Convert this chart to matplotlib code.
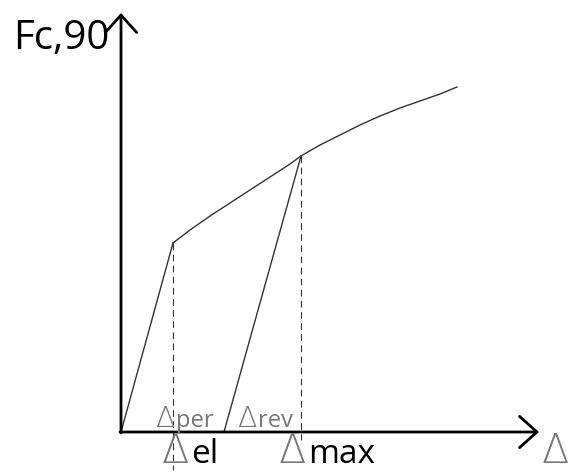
import matplotlib.pyplot as plt

plt.rcParams['font.family'] = ['Open Sans', 'DejaVu Sans']

# load-displacement path (displacement, force)
elastic_x = [0, 52]
elastic_y = [0, 189]
plastic_x = [52, 69, 89, 109, 129, 149, 169, 180, 199, 219, 239, 259, 279, 299, 319, 336]
plastic_y = [189, 202, 216, 229, 242, 255, 268, 276, 287, 297, 307, 316, 324, 331, 338, 345]
unload_x = [180, 103]
unload_y = [276, 0]

d_el = 52
d_max = 180

fig = plt.figure(figsize=(5.71, 4.72), dpi=100)
ax = fig.add_axes([0, 0, 1, 1])
ax.set_xlim(-121, 450)
ax.set_ylim(-40, 432)
ax.axis('off')

line_kw = dict(color='#333333', lw=1.0)
ax.plot(elastic_x, elastic_y, **line_kw)
ax.plot(plastic_x, plastic_y, **line_kw)
ax.plot(unload_x, unload_y, **line_kw)

# dashed guides down to the displacement labels
ax.plot([d_el, d_el], [elastic_y[1], -38], color='#333333', lw=0.8, ls=(0, (6, 4)))
ax.plot([d_max, d_max], [unload_y[0], -8], color='#333333', lw=0.8, ls=(0, (6, 4)))

# coordinate axes with open arrowheads
arrow = dict(arrowstyle='->,head_length=0.5,head_width=0.45', lw=2, color='black',
             mutation_scale=25, shrinkA=0, shrinkB=0)
ax.annotate('', xy=(0, 419), xytext=(0, -1), arrowprops=arrow)
ax.annotate('', xy=(418, 0), xytext=(-1, 0), arrowprops=arrow)


def delta_label(x, y, suffix, size, color):
    """Thin grey delta followed by the word that names the displacement."""
    d = ax.text(x, y, '\u0394', fontsize=size * 1.2, family='DejaVu Sans',
                fontweight='light', color='#777777', ha='left', va='baseline')
    if suffix:
        ax.annotate(suffix, xy=(1, 0), xycoords=d, xytext=(1, 0),
                    textcoords='offset points', fontsize=size, color=color,
                    ha='left', va='bottom')
    return d


ax.text(-108, 373, 'Fc,90', fontsize=29, ha='left', va='bottom', color='black')
delta_label(d_el - 11, -31, 'el', 24, 'black')
delta_label(d_max - 22, -31, 'max', 24, 'black')
delta_label(421, -31, '', 24, 'black')
delta_label(d_el - 18, 5, 'per', 17, '#777777')
delta_label(d_max - 64, 5, 'rev', 17, '#777777')

fig.savefig('out.png', dpi=100)
